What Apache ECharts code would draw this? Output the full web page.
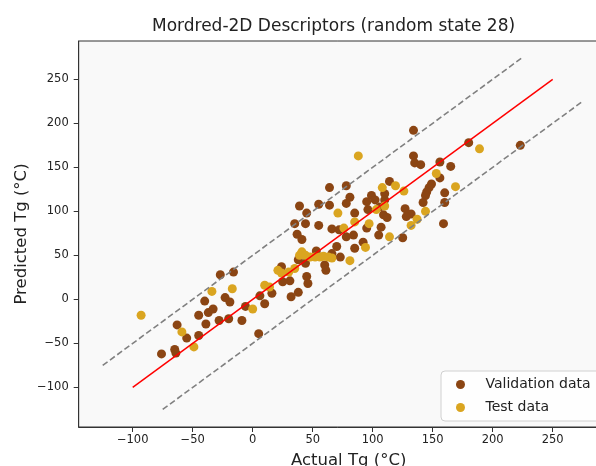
<!DOCTYPE html>
<html>
<head>
<meta charset="utf-8">
<script src="https://cdn.jsdelivr.net/npm/echarts@6/dist/echarts.min.js"></script>
<style>
  html, body { margin: 0; padding: 0; background: #fff; overflow: hidden; }
  #chart { width: 596px; height: 466px; }
</style>
</head>
<body>
<div id="chart"></div>
<script>
  // validation points (actual, predicted)
  var valActual = [-76, -65, -64, -63, -55, -45, -45, -39, -37, -33, -28, -20, -9, -6, 5, 10, 6, 16, -40, -23, -19, -27, -16,
    64, 78, 81, 78, 39, 55, 64, 45, 85, 35, 44, 55, 66, 72, 37, 41, 78, 84, 70, 85, 38, 44, 60, 61, 73, 53, 66, 24, 31, 25, 45, 46, 38, 32,
    134, 180, 223, 134, 135, 140, 156, 165, 156, 114, 149, 147, 145, 144, 160, 160, 142, 127, 132, 128, 159, 125, 99, 95, 102, 110, 110, 106, 96, 109, 112, 107, 95, 105, 92];
  var valPred = [-62, -57, -61, -29, -44, -18, -41, -28, -15, -11, -24, -22, -24, -8, -39, -5, 4, 7, -2, 2, -3, 28, 31,
    127, 129, 116, 109, 106, 108, 107, 98, 98, 86, 86, 84, 80, 79, 74, 68, 71, 73, 60, 58, 45, 41, 39, 33, 48, 55, 52, 37, 21, 20, 26, 18, 8, 3,
    192, 178, 175, 163, 155, 153, 156, 151, 138, 134, 131, 127, 122, 118, 121, 110, 110, 103, 97, 94, 86, 70, 118, 111, 113, 120, 113, 105, 102, 96, 93, 82, 81, 73, 65];

  // test points
  var testActual = [-93, -34, -17, -59, -49, 0, 10, 14, 21, 24, 30, 35, 71, 85, 76, 41, 39, 44, 48, 52, 56, 59, 63, 66, 81, 97, 94,
    189, 88, 153, 108, 119, 126, 169, 144, 137, 132, 114, 110, 103];
  var testPred = [-18, 9, 12, -37, -54, -11, 16, 14, 33, 30, 31, 35, 98, 88, 81, 54, 50, 50, 48, 48, 48, 49, 48, 47, 44, 86, 59,
    171, 163, 143, 127, 129, 123, 128, 100, 91, 84, 71, 106, 102];

  // y = x line and the +/-50 band
  var idealX = [-100, 250];
  var upperX = [-125, 225];
  var lowerX = [-75, 275];
  var band = 50;

  var ticks = [-100, -50, 0, 50, 100, 150, 200, 250];

  function pairs(xs, ys) {
    return xs.map(function (x, i) { return [x, ys[i]]; });
  }
  function shifted(xs, d) {
    return xs.map(function (x) { return [x, x + d]; });
  }

  var font = 'DejaVu Sans';
  var minus = function (v) { return String(v).replace('-', '\u2212'); };

  function axis(name, max, gap, labelMargin) {
    return {
      type: 'value',
      min: -145,
      max: max,
      name: name,
      nameLocation: 'middle',
      nameGap: gap,
      nameMoveOverlap: false,
      nameTextStyle: { fontFamily: font, fontSize: 16.5, color: '#222' },
      splitLine: { show: false },
      axisLine: { show: true, onZero: false, lineStyle: { color: '#333', width: 1 } },
      axisTick: { show: true, length: 5, customValues: ticks, lineStyle: { color: '#333', width: 1 } },
      axisLabel: { customValues: ticks, formatter: minus, margin: labelMargin,
        fontFamily: font, fontSize: 11.5, color: '#222' }
    };
  }

  var chart = echarts.init(document.getElementById('chart'), null, { renderer: 'canvas' });

  chart.setOption({
    backgroundColor: '#fff',
    animation: false,
    title: {
      text: 'Mordred-2D Descriptors (random state 28)',
      left: 147,
      top: 13,
      textStyle: { fontFamily: font, fontSize: 17, fontWeight: 'normal', color: '#222' }
    },
    grid: {
      left: 78.7,
      top: 41,
      width: 540,
      height: 386,
      outerBoundsMode: 'none',
      show: true,
      backgroundColor: '#f9f9f9',
      borderColor: '#333',
      borderWidth: 1
    },
    // the plot runs past the right edge of the picture
    xAxis: axis('Actual Tg (°C)', 305, 25, 7),
    yAxis: axis('Predicted Tg (°C)', 293.5, 48, 10),
    legend: {
      orient: 'vertical',
      left: 441,
      top: 371,
      padding: [5, 200, 5, 15],
      itemGap: 6,
      itemWidth: 40,
      itemHeight: 9,
      backgroundColor: 'rgba(255,255,255,0.8)',
      borderColor: '#d0d0d0',
      borderWidth: 1,
      borderRadius: 4,
      data: ['Validation data', 'Test data'],
      textStyle: { fontFamily: font, fontSize: 14, color: '#222', lineHeight: 17 }
    },
    series: [
      {
        name: 'upper',
        type: 'line',
        data: shifted(upperX, band),
        symbol: 'none',
        silent: true,
        lineStyle: { color: 'gray', width: 1.6, type: [6, 3] }
      },
      {
        name: 'lower',
        type: 'line',
        data: shifted(lowerX, -band),
        symbol: 'none',
        silent: true,
        lineStyle: { color: 'gray', width: 1.6, type: [6, 3] }
      },
      {
        name: 'ideal',
        type: 'line',
        data: shifted(idealX, 0),
        symbol: 'none',
        silent: true,
        lineStyle: { color: 'red', width: 1.5 }
      },
      {
        name: 'Validation data',
        type: 'scatter',
        data: pairs(valActual, valPred),
        symbol: 'circle',
        symbolSize: 9,
        itemStyle: { color: '#8B4513', opacity: 1 }
      },
      {
        name: 'Test data',
        type: 'scatter',
        data: pairs(testActual, testPred),
        symbol: 'circle',
        symbolSize: 9,
        itemStyle: { color: '#DAA520', opacity: 1 }
      }
    ]
  });
</script>
</body>
</html>
